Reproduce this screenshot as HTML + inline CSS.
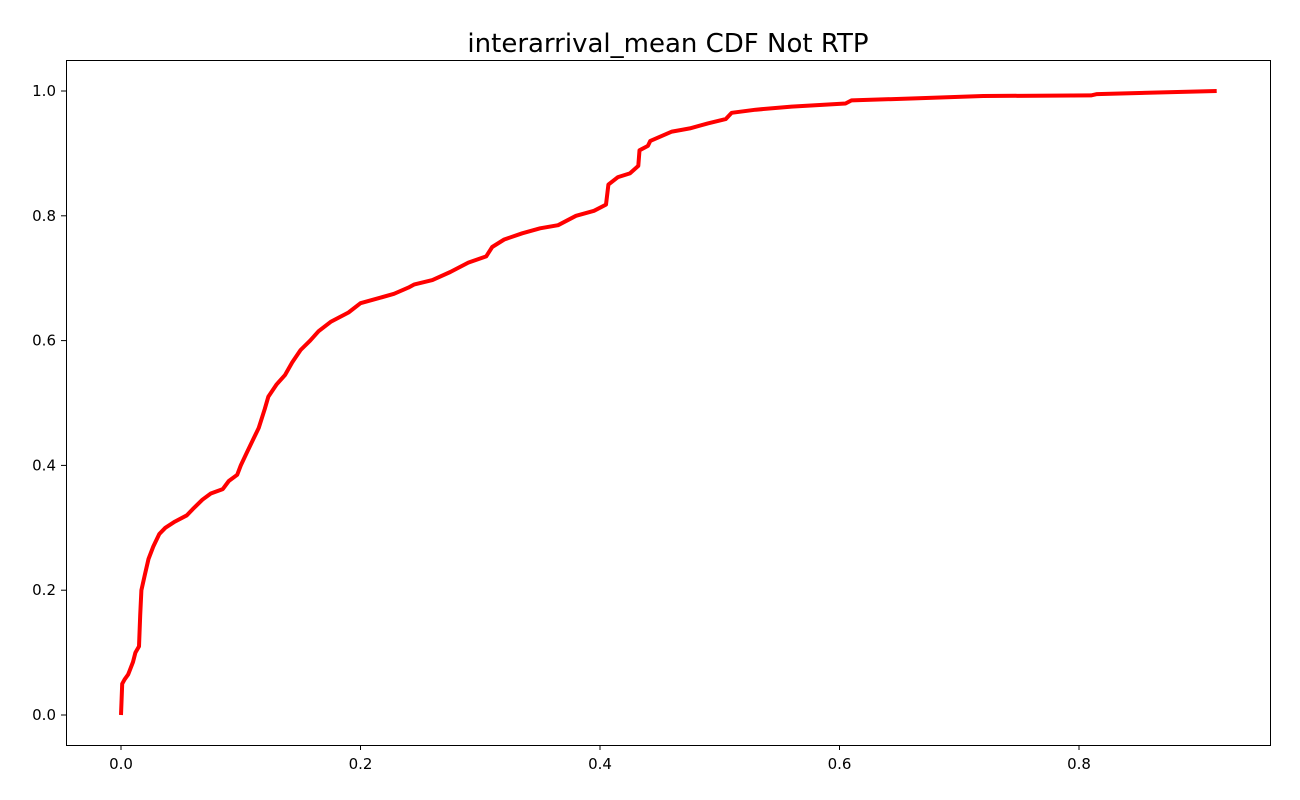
<!DOCTYPE html>
<html><head><meta charset="utf-8">
<style>
html,body{margin:0;padding:0;background:#fff;}
svg{display:block;font-family:"DejaVu Sans","Liberation Sans",sans-serif;}
</style></head>
<body>
<svg id="chart" width="1300" height="800" viewBox="0 0 1300 800">
<text x="668" y="52" font-size="26" text-anchor="middle" fill="#000">interarrival_mean CDF Not RTP</text>
<g id="xticks"></g>
<g id="yticks"></g>
<path id="line" fill="none" stroke="#ff0000" stroke-width="4" stroke-linejoin="round"></path>
<rect x="66.5" y="60.5" width="1204" height="685" fill="none" stroke="#000" stroke-width="1"></rect>
</svg>
<script>
const xValues=[0,0.001,0.003,0.006,0.01,0.012,0.015,0.016,0.017,0.02,0.023,0.027,0.032,0.037,0.045,0.055,0.06,0.068,0.075,0.085,0.09,0.097,0.1,0.105,0.11,0.115,0.12,0.123,0.13,0.137,0.143,0.15,0.158,0.165,0.175,0.19,0.2,0.215,0.228,0.24,0.245,0.26,0.275,0.29,0.305,0.31,0.32,0.335,0.35,0.365,0.38,0.395,0.405,0.407,0.415,0.425,0.432,0.433,0.44,0.442,0.46,0.475,0.49,0.505,0.51,0.53,0.56,0.605,0.61,0.66,0.72,0.81,0.815,0.915];
const yValues=[0,0.05,0.057,0.065,0.085,0.1,0.11,0.16,0.2,0.225,0.25,0.27,0.29,0.3,0.31,0.32,0.33,0.345,0.355,0.362,0.375,0.385,0.4,0.42,0.44,0.46,0.49,0.51,0.53,0.545,0.565,0.585,0.6,0.615,0.63,0.645,0.66,0.668,0.675,0.685,0.69,0.697,0.71,0.725,0.735,0.75,0.762,0.772,0.78,0.785,0.8,0.808,0.818,0.85,0.862,0.868,0.88,0.905,0.912,0.92,0.935,0.94,0.948,0.955,0.965,0.97,0.975,0.98,0.985,0.988,0.992,0.993,0.995,1.0];
const xTicks=[0,0.2,0.4,0.6,0.8];
const yTicks=[0,0.2,0.4,0.6,0.8,1.0];
const X=v=>121+v*1197.5;
const Y=v=>715-v*624;
const NS='http://www.w3.org/2000/svg';
let d='';
xValues.forEach((x,i)=>{d+=(i?'L':'M')+X(x).toFixed(1)+' '+Y(yValues[i]).toFixed(1);});
document.getElementById('line').setAttribute('d',d);
const gx=document.getElementById('xticks');
xTicks.forEach(t=>{
 const l=document.createElementNS(NS,'line');
 
 
 l.setAttribute('x1',X(t));l.setAttribute('x2',X(t));l.setAttribute('y1',745);l.setAttribute('y2',750);l.setAttribute('stroke','#000');
 gx.appendChild(l);
 const tx=document.createElementNS(NS,'text');
 
 
 tx.setAttribute('x',X(t));tx.setAttribute('y',769);tx.setAttribute('font-size','15');tx.setAttribute('text-anchor','middle');
 tx.textContent=t.toFixed(1);gx.appendChild(tx);
});
const gy=document.getElementById('yticks');
yTicks.forEach(t=>{
 const l=document.createElementNS(NS,'line');
 
 
 l.setAttribute('x1',61);l.setAttribute('x2',66);l.setAttribute('y1',Y(t));l.setAttribute('y2',Y(t));l.setAttribute('stroke','#000');
 gy.appendChild(l);
 const tx=document.createElementNS(NS,'text');
 
 
 tx.setAttribute('x',56);tx.setAttribute('y',Y(t)+5);tx.setAttribute('font-size','15');tx.setAttribute('text-anchor','end');
 tx.textContent=t.toFixed(1);gy.appendChild(tx);
});
</script>
</body></html>
